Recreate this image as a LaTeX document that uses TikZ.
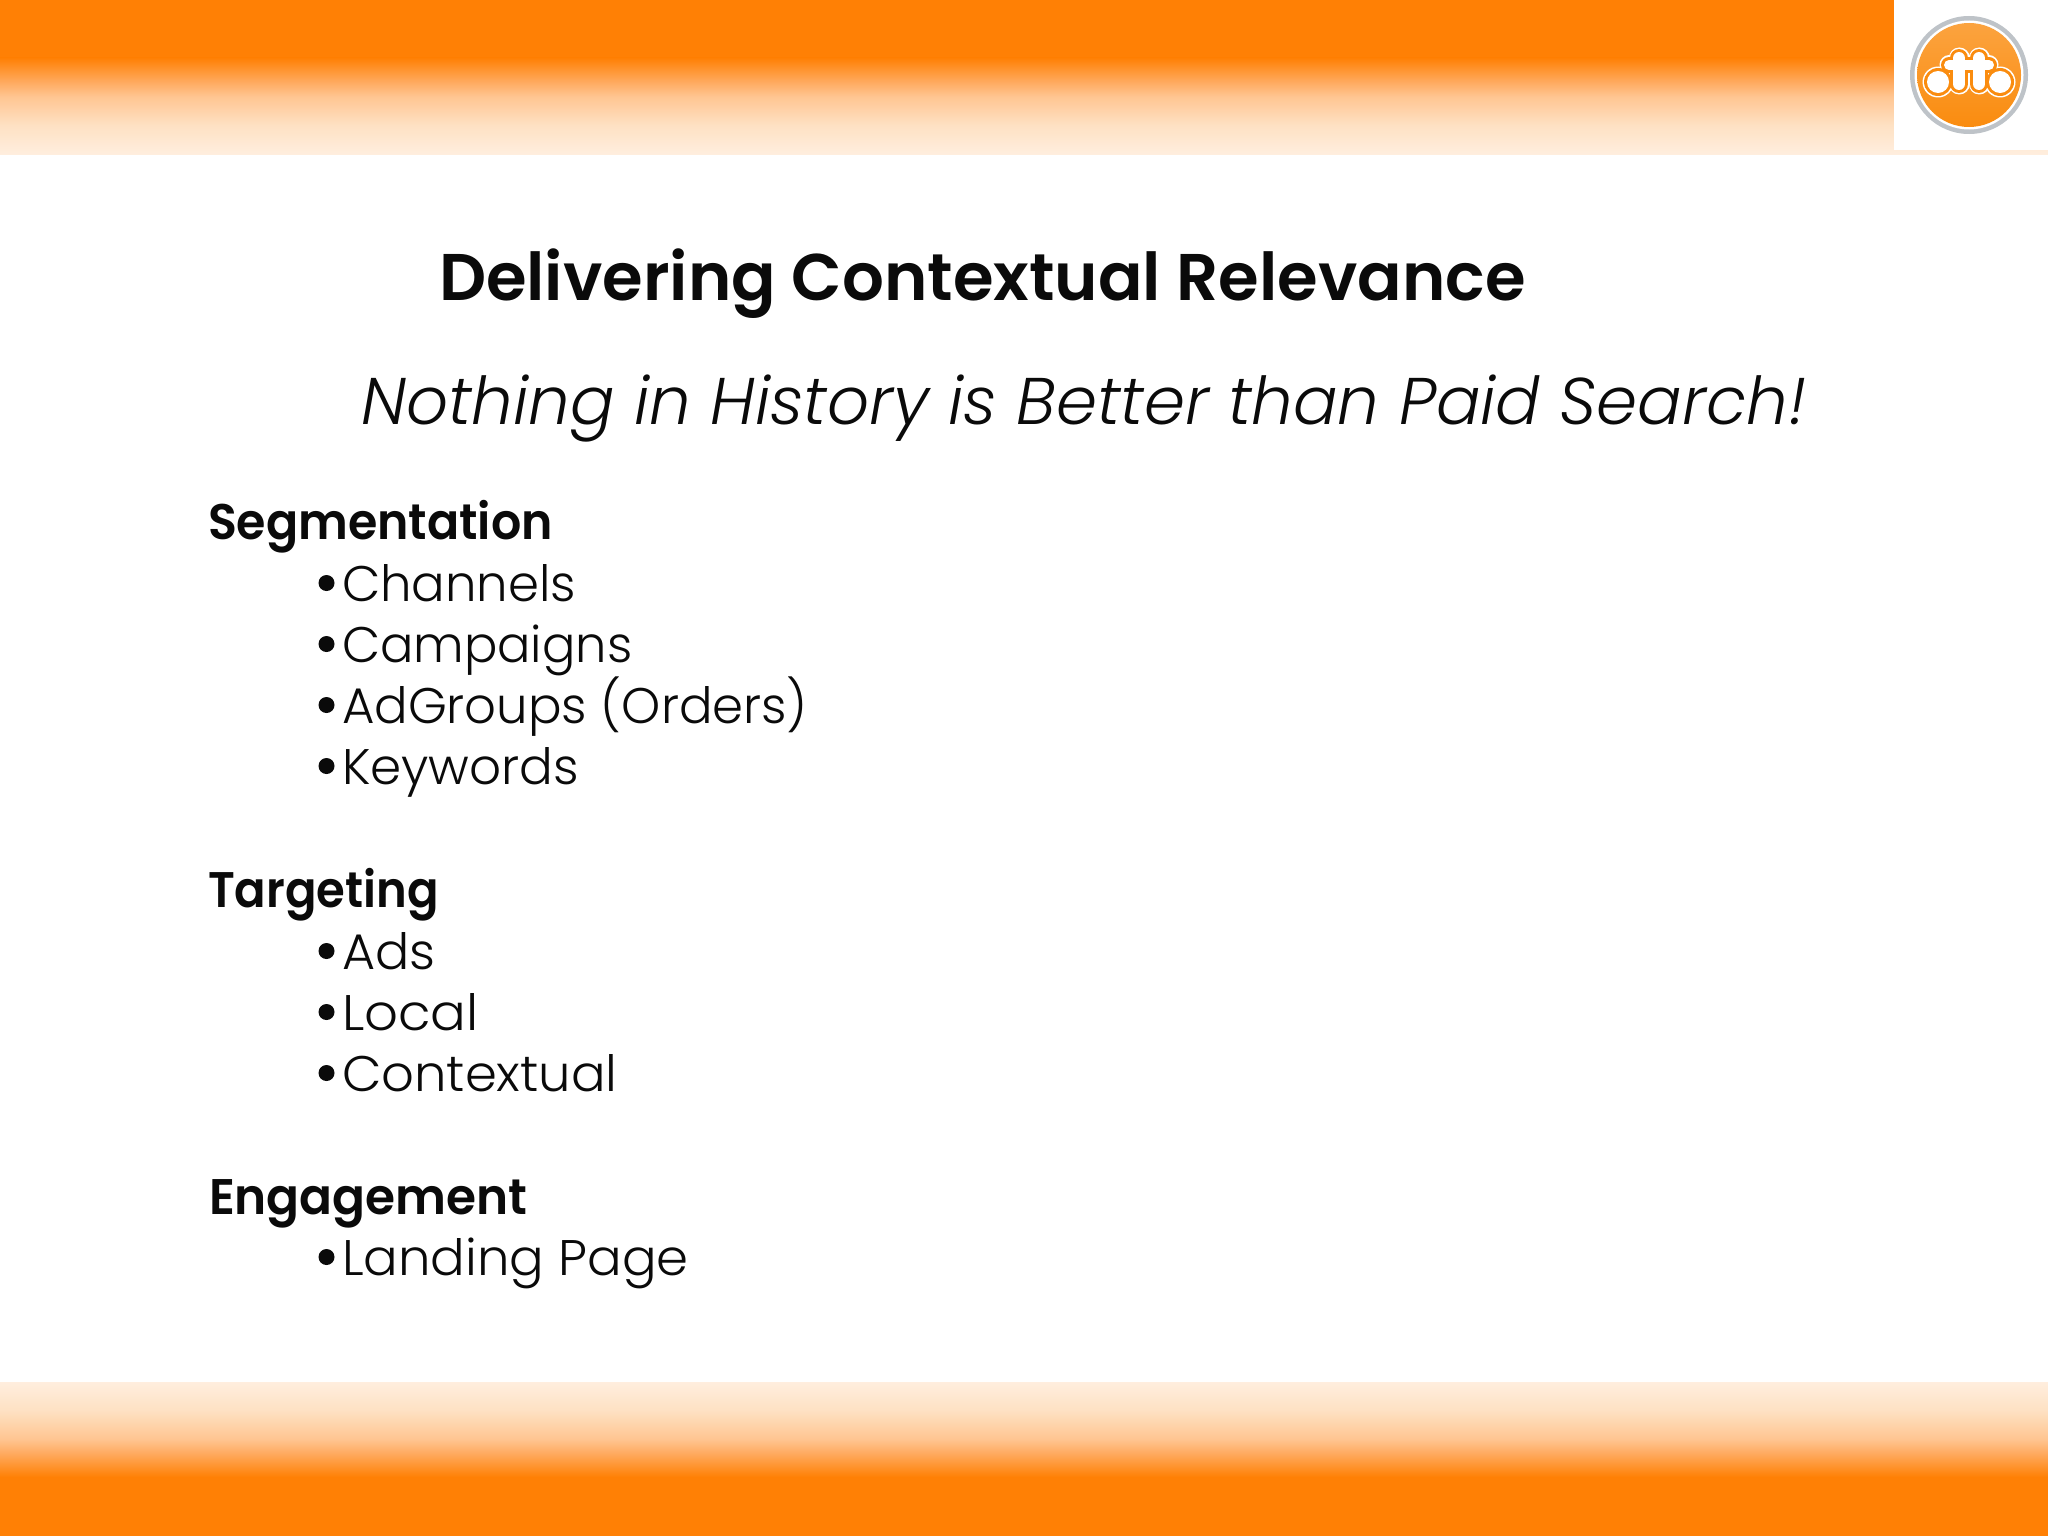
\documentclass[tikz,border=0pt]{standalone}
\usepackage{fontspec}
\setmainfont{Poppins}[UprightFont=* Light,ItalicFont=* Light Italic,BoldFont=* SemiBold]
\definecolor{bandor}{RGB}{255,128,5}
\definecolor{ringgrey}{RGB}{190,195,200}
\definecolor{logoor}{RGB}{250,140,15}
\definecolor{inkc}{RGB}{10,10,10}
\pgfdeclareverticalshading{bandfade}{100bp}{
 rgb(0bp)=(1,.502,.02); rgb(25bp)=(1,.502,.02); rgb(30bp)=(1,.57,.16); rgb(37.5bp)=(1,.667,.373);
 rgb(45bp)=(1,.773,.569); rgb(60bp)=(.996,.882,.765); rgb(75bp)=(1,.933,.871); rgb(100bp)=(1,.933,.871)}
\tikzset{
 x=0.5pt,y=-0.5pt,
 txt/.style={anchor=base west,inner sep=0pt,outer sep=0pt,text=inkc},
 head/.style={txt,font=\fontsize{25}{30}\selectfont\bfseries},
 item/.style={txt,font=\fontsize{25}{30}\selectfont},
 bul/.style={circle,fill=inkc,inner sep=0pt,minimum size=8pt},
}
\newcommand{\ottlayer}[2]{% extra offset in px, colour
 \pgfmathsetmacro{\ottr}{11+#1}
 \pgfmathsetmacro{\ottw}{(12+2*#1)*0.5}
 \pgfmathsetmacro{\ottb}{(10+2*#1)*0.5}
 \fill[#2] (1938,82) circle (\ottr);
 \fill[#2] (2000,82) circle (\ottr);
 \draw[#2,line cap=round,line width=\ottw pt] (1959,58) -- (1959,84);
 \draw[#2,line cap=round,line width=\ottw pt] (1979,58) -- (1979,84);
 \draw[#2,line cap=round,line width=\ottb pt] (1949,65) -- (1989,65);
}
\begin{document}
\begin{tikzpicture}
\useasboundingbox (0,0) rectangle (2048,1536);
\fill[white] (0,0) rectangle (2048,1536);
\fill[bandor] (0,0) rectangle (2048,58);
\shade[shading=bandfade,shading angle=180] (0,58) rectangle (2048,154);
\fill[white] (1894,0) rectangle (2048,150);
\fill[bandor] (0,1476) rectangle (2048,1536);
\shade[shading=bandfade] (0,1382) rectangle (2048,1477);
% logo
\fill[ringgrey] (1969,75) circle (59);
\fill[white] (1969,75) circle (54.5);
\shade[top color=logoor!80!white,bottom color=logoor] (1969,75) circle (52);
\ottlayer{4.5}{white}
\ottlayer{3}{logoor}
\ottlayer{0}{white}
% text
\node[txt,font=\fontsize{33}{40}\selectfont\bfseries] (title) at (439,300) {\scalebox{.996}[1]{Delivering Contextual Relevance}};
\node[txt,font=\fontsize{33}{40}\selectfont\itshape] (sub) at (361,424) {\scalebox{.998}[1]{Nothing in History is Better than Paid Search!}};
\node[head] (h1) at (208,539) {\scalebox{.95}[1]{Segmentation}};
\foreach \n/\y/\s/\t in {a/601/.995/Channels,b/662/.99/Campaigns,c/723/.995/AdGroups (Orders),d/784/1/Keywords,e/969/1.015/Ads,f/1030/1.06/Local,g/1091/1.025/Contextual,h/1275/1.027/Landing Page}{
 \node[item] (i\n) at (342,\y) {\scalebox{\s}[1]{\t}};
 \node[bul] (b\n) at (326.5,\y-18) {};
}
\node[head] (h2) at (208,907) {\scalebox{.93}[1]{Targeting}};
\node[head] (h3) at (209,1214) {\scalebox{.972}[1]{Engagement}};
\end{tikzpicture}
\end{document}
